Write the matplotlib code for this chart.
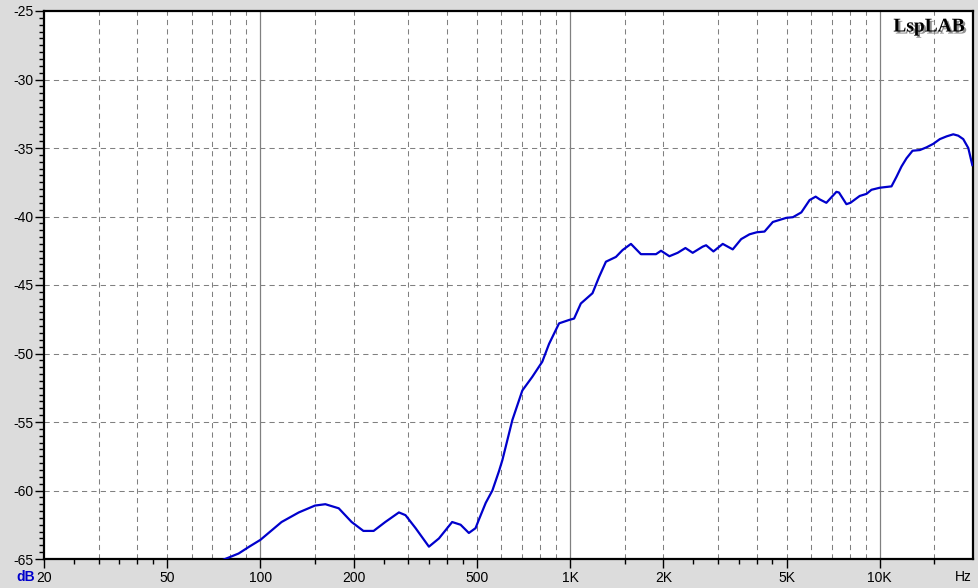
import numpy as np
import matplotlib.pyplot as plt
import matplotlib.patheffects as pe
from matplotlib.ticker import FixedLocator, NullFormatter

# response curve (Hz, dB)
freq = [75, 85, 92, 100, 117, 133, 150, 162, 179, 197, 215, 232, 253, 280, 294,
        317, 350, 377, 416, 443, 471, 495, 508, 534, 561, 589, 604, 651, 701,
        755, 813, 855, 921, 993, 1030, 1083, 1181, 1241, 1305, 1406, 1477, 1572,
        1693, 1894, 1966, 2092, 2225, 2357, 2488, 2680, 2749, 2903, 3111, 3351,
        3568, 3796, 4008, 4244, 4515, 4989, 5243, 5580, 5935, 6208, 6397, 6722,
        7243, 7384, 7803, 8039, 8614, 9057, 9400, 10000, 10910, 11324, 11752,
        12200, 12760, 13470, 14160, 14875, 15635, 16440, 17270, 17920, 18600,
        19310, 19900]
level = [-65.1, -64.6, -64.1, -63.6, -62.3, -61.6, -61.1, -61.0, -61.3, -62.3,
         -62.95, -62.95, -62.3, -61.6, -61.8, -62.75, -64.1, -63.5, -62.3, -62.5,
         -63.1, -62.75, -62.1, -60.9, -60.0, -58.6, -57.8, -54.85, -52.7, -51.7,
         -50.6, -49.3, -47.8, -47.55, -47.45, -46.35, -45.6, -44.4, -43.3, -42.95,
         -42.45, -42.0, -42.75, -42.75, -42.5, -42.9, -42.65, -42.3, -42.65, -42.2,
         -42.1, -42.55, -42.0, -42.4, -41.65, -41.3, -41.15, -41.1, -40.4, -40.1,
         -40.05, -39.7, -38.8, -38.55, -38.75, -39.0, -38.2, -38.25, -39.1, -39.0,
         -38.5, -38.35, -38.05, -37.9, -37.8, -37.1, -36.35, -35.75, -35.2, -35.15,
         -34.95, -34.7, -34.35, -34.15, -34.0, -34.1, -34.35, -35.0, -36.25]

x_ticks = [20, 50, 100, 200, 500, 1000, 2000, 5000, 10000]
x_labels = ['20', '50', '100', '200', '500', '1K', '2K', '5K', '10K']
x_minor = [25, 30, 35, 40, 45, 150, 250, 300, 350, 400, 450,
           1500, 2500, 3000, 3500, 4000, 4500, 15000]
grid_dashed = [30, 40, 50, 60, 70, 80, 90, 150, 200, 300, 400, 500, 600, 700,
               800, 900, 1500, 2000, 3000, 4000, 5000, 6000, 7000, 8000, 9000,
               15000]
grid_solid = [100, 1000, 10000]
y_ticks = [-65, -60, -55, -50, -45, -40, -35, -30, -25]

plt.rcParams['font.family'] = ['Liberation Sans', 'DejaVu Sans']

W, H = 979, 588
fig = plt.figure(figsize=(W / 100, H / 100), dpi=100, facecolor='#dcdcdc')
ax = fig.add_axes([44 / W, 29 / H, 929 / W, 548 / H])
ax.set_facecolor('white')

ax.set_xscale('log')
ax.set_xlim(20, 20000)
ax.set_ylim(-65, -25)

# grid
dash = (0, (5, 4))
for g in grid_dashed:
    ax.axvline(g, color='#808080', lw=0.75, ls=dash, zorder=1)
for g in grid_solid:
    ax.axvline(g, color='#808080', lw=0.9, zorder=1)
for g in y_ticks[1:-1]:
    ax.axhline(g, color='#808080', lw=0.75, ls=dash, zorder=1)

ax.plot(freq, level, color='#0000cc', lw=1.6, zorder=3)

# ticks
ax.xaxis.set_major_locator(FixedLocator(x_ticks))
ax.set_xticklabels(x_labels)
ax.xaxis.set_minor_locator(FixedLocator(x_minor))
ax.xaxis.set_minor_formatter(NullFormatter())
ax.set_yticks(y_ticks)
ax.set_yticklabels([str(v) for v in y_ticks])
ax.yaxis.set_minor_locator(FixedLocator(np.arange(-65, -24.9, 0.5)))

ax.tick_params(axis='x', which='major', direction='out', length=6.5, width=1,
               pad=2, labelsize=10, colors='black')
ax.tick_params(axis='x', which='minor', direction='out', length=3.3, width=1)
ax.tick_params(axis='y', which='major', direction='out', length=6.5, width=1,
               pad=1, labelsize=10)
ax.tick_params(axis='y', which='minor', direction='out', length=3.5, width=1)

for s in ax.spines.values():
    s.set_linewidth(1.6)
    s.set_color('black')

fig.text(963 / W, 1 - 577 / H, 'Hz', ha='center', va='center', fontsize=10)
fig.text(26 / W, 1 - 577 / H, 'dB', ha='center', va='center', fontsize=10,
         color='#0000cc', fontweight='bold')
fig.text(965 / W, 1 - 27 / H, 'LspLAB', ha='right', va='center',
         family=['Liberation Serif', 'DejaVu Serif'], fontweight='bold',
         fontsize=14, zorder=5,
         path_effects=[pe.withSimplePatchShadow(offset=(1.5, -1.5),
                                                shadow_rgbFace='#909090',
                                                alpha=1)])

fig.savefig('out.png', dpi=100, facecolor=fig.get_facecolor())
